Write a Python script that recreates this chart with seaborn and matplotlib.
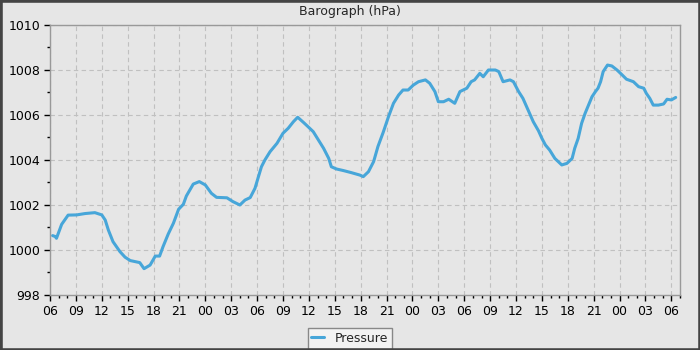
import numpy as np
import pandas as pd
import matplotlib
matplotlib.use("Agg")
import matplotlib.pyplot as plt
import matplotlib.dates as mdates
from matplotlib.patches import Rectangle
import seaborn as sns

# hours after the first 06:00 on the axis
hours = [0.3, 0.6, 0.75, 1.35, 2.1, 3.1, 4.06, 5.2, 6.0, 6.4, 6.76, 7.3, 8.1, 8.7, 9.3,
         10.4, 10.9, 11.6, 12.2, 12.7, 13.1, 13.7, 14.3, 14.9, 15.45, 15.8, 16.6, 17.3,
         18.0, 18.7, 19.3, 20.5, 21.2, 22.0, 22.6, 23.2, 23.75, 24.1, 24.5, 24.9, 25.5,
         26.3, 27.0, 27.6, 28.2, 28.7, 29.4, 29.9, 30.5, 31.1, 31.7, 32.3, 32.6, 33.2,
         34.0, 34.9, 35.9, 36.3, 36.9, 37.5, 38.0, 38.6, 39.2, 39.8, 40.4, 40.9, 41.5,
         42.1, 42.7, 43.5, 44.0, 44.6, 45.0, 45.6, 46.2, 46.9, 47.5, 48.3, 48.8, 49.2,
         49.8, 50.2, 50.8, 51.6, 52.0, 52.5, 53.3, 53.7, 54.3, 54.8, 55.4, 56.0, 56.6,
         57.0, 57.4, 57.9, 58.5, 59.3, 59.9, 60.5, 60.8, 61.2, 61.6, 62.0, 62.4, 62.8,
         63.2, 63.5, 63.8, 64.1, 64.6, 65.1, 65.7, 66.3, 66.8, 67.6, 68.2, 68.8, 69.1,
         69.5, 69.9, 70.5, 71.1, 71.5, 72.0, 72.5]
pressure = [1000.64, 1000.6, 1000.52, 1001.14, 1001.55, 1001.56, 1001.62, 1001.66, 1001.56,
            1001.33, 1000.89, 1000.37, 999.93, 999.68, 999.53, 999.44, 999.17, 999.33,
            999.73, 999.73, 1000.15, 1000.71, 1001.19, 1001.81, 1002.03, 1002.4, 1002.93,
            1003.04, 1002.89, 1002.52, 1002.34, 1002.32, 1002.15, 1002.0, 1002.22, 1002.33,
            1002.74, 1003.19, 1003.7, 1004.0, 1004.37, 1004.74, 1005.19, 1005.41, 1005.7,
            1005.9, 1005.66, 1005.48, 1005.26, 1004.89, 1004.52, 1004.07, 1003.7, 1003.6,
            1003.53, 1003.44, 1003.33, 1003.26, 1003.48, 1003.93, 1004.6, 1005.22, 1005.9,
            1006.52, 1006.89, 1007.11, 1007.11, 1007.33, 1007.48, 1007.56, 1007.41, 1007.04,
            1006.59, 1006.59, 1006.7, 1006.52, 1007.04, 1007.19, 1007.48, 1007.56, 1007.85,
            1007.7, 1008.0, 1008.0, 1007.93, 1007.48, 1007.56, 1007.48, 1007.04, 1006.74,
            1006.22, 1005.7, 1005.3, 1004.96, 1004.67, 1004.44, 1004.07, 1003.78, 1003.85,
            1004.07, 1004.52, 1004.96, 1005.63, 1006.07, 1006.44, 1006.81, 1007.04, 1007.19,
            1007.48, 1007.93, 1008.22, 1008.18, 1008.0, 1007.78, 1007.59, 1007.48, 1007.26,
            1007.19, 1006.96, 1006.74, 1006.44, 1006.44, 1006.49, 1006.7, 1006.67, 1006.78]
series_name = "Pressure"
title = "Barograph (hPa)"

start = pd.Timestamp("2024-01-01 06:00")
df = pd.DataFrame({
    "time": start + pd.to_timedelta(hours, unit="h"),
    "pressure": pressure,
    "series": series_name,
})

bg = "#e6e6e6"
sns.set_style("ticks", {
    "axes.facecolor": bg,
    "figure.facecolor": bg,
    "axes.edgecolor": "#999999",
    "grid.color": "#c0c0c0",
    "xtick.color": "#000000",
    "ytick.color": "#000000",
})
plt.rcParams["font.family"] = ["DejaVu Sans"]

fig = plt.figure(figsize=(7, 3.5), dpi=100)
ax = fig.add_axes([50 / 700, 55 / 350, 630 / 700, 270 / 350])

sns.lineplot(data=df, x="time", y="pressure", hue="series",
             palette=["#47a6d9"], linewidth=2.2, ax=ax)

ax.set_xlim(start, start + pd.Timedelta(hours=73))
ax.set_ylim(998, 1010)
ax.set_yticks([998, 1000, 1002, 1004, 1006, 1008, 1010])
ax.set_yticks([999, 1001, 1003, 1005, 1007, 1009], minor=True)
ax.xaxis.set_major_locator(mdates.HourLocator(byhour=range(0, 24, 3)))
ax.xaxis.set_minor_locator(mdates.HourLocator(interval=1))
ax.xaxis.set_major_formatter(mdates.DateFormatter("%H"))

ax.grid(True, which="major", linestyle=(0, (4, 3)), linewidth=0.8, color="#c0c0c0")
ax.tick_params(which="major", length=4, width=1, labelsize=9, pad=3)
ax.tick_params(which="minor", length=2.5, width=1)
for s in ax.spines.values():
    s.set_visible(True)
    s.set_color("#999999")
    s.set_linewidth(1)

ax.set_xlabel("")
ax.set_ylabel("")
fig.suptitle(title, y=0.985, fontsize=9, va="top")

leg = ax.legend(loc="upper center", bbox_to_anchor=(0.5, 1 - 328 / 350),
                bbox_transform=fig.transFigure, frameon=True,
                fancybox=False, fontsize=9, handlelength=1.0, borderpad=0.3,
                handletextpad=0.9, borderaxespad=0)
leg.get_frame().set_facecolor("#f2f2f2")
leg.get_frame().set_edgecolor("#888888")
leg.get_frame().set_alpha(1)

fig.patches.append(Rectangle((0, 0), 1, 1, transform=fig.transFigure, fill=False,
                             edgecolor="#444444", linewidth=3.3))

fig.savefig("out.png", dpi=100, facecolor=bg)
